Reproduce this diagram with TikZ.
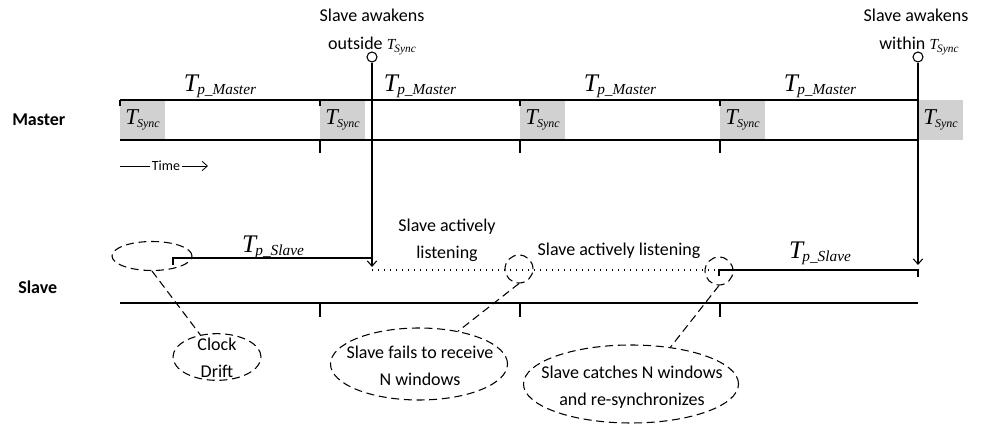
\documentclass[tikz,border=0pt]{standalone}
\usepackage{fontspec}
\setmainfont{Carlito}
\newfontfamily\tms{Liberation Serif}
\usetikzlibrary{arrows.meta,shapes.geometric}

% italic period symbols: T with a lowered subscript
\newcommand\perT[3]{{\tms\itshape\fontsize{#1}{#1}\selectfont T\kern-0.6pt\raisebox{-2.2pt}{\fontsize{#2}{#2}\selectfont #3}}}
\newcommand\TpM{\perT{19}{11.5}{p\_Master}}
\newcommand\TpS{\perT{19}{11.5}{p\_Slave}}
\newcommand\TsyB{\perT{17}{9}{Sync}}
\newcommand\TsyS{\perT{11.5}{8.5}{Sync}}

\tikzset{
  x=0.75pt, y=-0.75pt,
  line/.style={line width=0.8pt},
  syncbox/.style={fill=black!18, draw=none, minimum width=33.75pt, minimum height=30pt, inner sep=0pt},
  lbl/.style={inner sep=0pt, font=\fontsize{13.5}{20}\selectfont, align=center},
  role/.style={inner sep=0pt, font=\fontsize{13.5}{16}\selectfont\bfseries, anchor=west},
  wake/.style={circle, draw, line width=0.8pt, minimum size=7.5pt, inner sep=0pt},
  dsh/.style={line width=0.8pt, dash pattern=on 6pt off 3.5pt},
  ring/.style={ellipse, dsh, draw, inner sep=0pt},
  tip/.style={-{Straight Barb[length=4pt,width=7pt]}},
}

\begin{document}
\begin{tikzpicture}
\useasboundingbox (0,0) rectangle (986,427);

% ---------------- master ----------------
\node[role] (master) at (12,120) {Master};
\foreach \i/\x in {1/142.5,2/342.5,3/542.5,4/742.5,5/940.5}
  \node[syncbox] (sb\i) at (\x,120) {\TsyB};
\draw[line] (120,100) -- (918,100);
\draw[line] (120,140) -- (918,140);
\foreach \x in {120,320,520,720}
  \draw[line] (\x,100) -- (\x,106);
\foreach \x in {320,520,720}
  \draw[line] (\x,140) -- (\x,153);
\foreach \i/\x in {1/220,2/420,3/620,4/820}
  \node[inner sep=0pt] (tpm\i) at (\x,86) {\TpM};

% time direction
\node[inner sep=1pt, font=\fontsize{10.5}{12}\selectfont] (time) at (166,166) {Time};
\coordinate (t0) at (120,166);
\coordinate (t1) at (208,166);
\draw[line width=0.6pt] (t0) -- (time.west);
\draw[line width=0.6pt, tip] (time.east) -- (t1);

% wake-up events
\node[lbl] (aw1a) at (372,15) {Slave awakens};
\node[lbl] (aw1b) at (372,46) {outside \TsyS};
\node[lbl] (aw2a) at (916,15) {Slave awakens};
\node[lbl] (aw2b) at (919,46) {within \TsyS};
\node[wake] (w1) at (372,57) {};
\node[wake] (w2) at (918,57) {};
\coordinate (a1) at (372,267);
\coordinate (a2) at (918,265);
\draw[line, tip] (w1.south) -- (a1);
\draw[line, tip] (w2.south) -- (a2);

% ---------------- slave ----------------
\node[role] (slave) at (18,287) {Slave};
\draw[line] (120,303) -- (918,303);
\foreach \x in {320,520,720}
  \draw[line] (\x,303) -- (\x,317);

\draw[line] (173,265) -- (173,258) -- (372,258);
\node[inner sep=0pt] (tps1) at (273,247) {\TpS};
\draw[line width=0.8pt, dash pattern=on 0.8pt off 3.7pt] (372,270) -- (719,270);
\draw[line] (719,276) -- (719,270) -- (918,270) -- (918,277);
\node[inner sep=0pt] (tps2) at (820,253) {\TpS};

\node[lbl] (lis1) at (447,240) {Slave actively\\listening};
\node[lbl] (lis2) at (619,251) {Slave actively listening};

% callouts
\node[ring, minimum width=60pt, minimum height=21.75pt] (drift) at (152,256) {};
\node[ring, minimum width=66pt, minimum height=35pt] (cd) at (217,357) {};
\node[lbl] (cdt) at (217,358) {Clock\\Drift};
\draw[dsh] (drift.south) -- (cd.127);

\node[ring, circle, minimum size=21pt] (c1) at (519,269) {};
\node[ring, minimum width=132.75pt, minimum height=54pt] (fr) at (419,364) {};
\node[lbl] (frt) at (420,366) {Slave fails to receive\\N windows};
\draw[dsh] (c1.south) -- (fr.40);

\node[ring, circle, minimum size=21pt] (c2) at (719,271) {};
\node[ring, minimum width=161.25pt, minimum height=58.5pt] (ct) at (631,384) {};
\node[lbl] (ctt) at (632,387) {Slave catches N windows\\and re-synchronizes};
\draw[dsh] (c2.south) -- (ct.43);
\end{tikzpicture}
\end{document}
